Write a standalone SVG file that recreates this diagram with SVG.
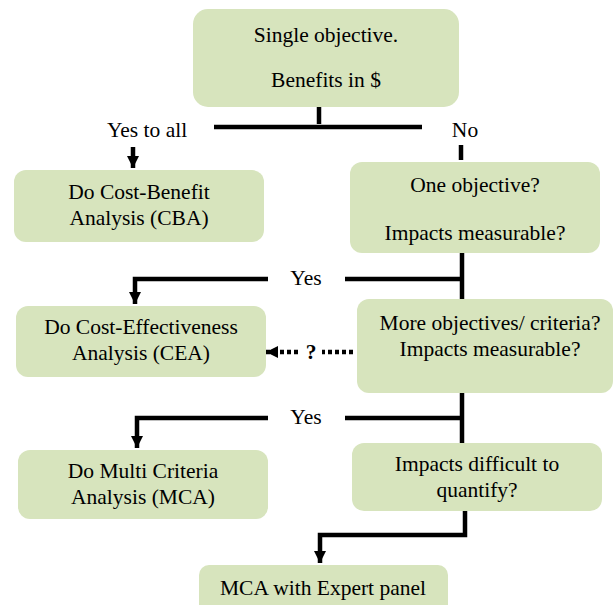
<svg xmlns="http://www.w3.org/2000/svg" width="614" height="605" viewBox="0 0 614 605">
<style>
.box{fill:#d7e4bd;stroke:none}
.t{font-family:"Liberation Serif","Times New Roman",serif;font-size:21.5px;fill:#000;text-anchor:middle}
.c{fill:none;stroke:#000;stroke-width:4.5}
.d{fill:none;stroke:#000;stroke-width:4.5;stroke-dasharray:4 3}
</style>
<defs>
<marker id="ah" markerUnits="userSpaceOnUse" markerWidth="14" markerHeight="12" refX="12" refY="6" orient="auto">
<path d="M0,0 L12,6 L0,12 Z" fill="#000"/>
</marker>
</defs>
<rect width="614" height="605" fill="#fff"/>
<g id="n-start"><rect class="box" x="193" y="9" width="266" height="98" rx="15"/>
<text class="t" x="326" y="42">Single objective.</text>
<text class="t" x="326" y="87">Benefits in $</text></g>
<g id="n-cba"><rect class="box" x="14" y="170" width="250" height="72" rx="12"/>
<text class="t" x="139" y="199">Do Cost-Benefit</text>
<text class="t" x="139" y="225">Analysis (CBA)</text></g>
<g id="n-one"><rect class="box" x="350" y="162" width="250" height="91" rx="12"/>
<text class="t" x="475" y="192">One objective?</text>
<text class="t" x="475" y="240">Impacts measurable?</text></g>
<g id="n-cea"><rect class="box" x="16" y="306" width="250" height="71" rx="12"/>
<text class="t" x="141" y="334">Do Cost-Effectiveness</text>
<text class="t" x="141" y="360">Analysis (CEA)</text></g>
<g id="n-more"><rect class="box" x="357" y="299" width="256" height="94" rx="12"/>
<text class="t" x="490" y="330">More objectives/ criteria?</text>
<text class="t" x="490" y="356">Impacts measurable?</text></g>
<g id="n-mca"><rect class="box" x="18" y="450" width="250" height="69" rx="12"/>
<text class="t" x="143" y="478">Do Multi Criteria</text>
<text class="t" x="143" y="504">Analysis (MCA)</text></g>
<g id="n-diff"><rect class="box" x="352" y="443" width="250" height="68" rx="12"/>
<text class="t" x="477" y="471">Impacts difficult to</text>
<text class="t" x="477" y="497">quantify?</text></g>
<g id="n-expert"><rect class="box" x="199" y="565" width="249" height="50" rx="10"/>
<text class="t" x="323" y="595">MCA with Expert panel</text></g>
<g id="connectors">
<path class="c" d="M319,107 V124"/>
<path class="c" d="M214,127 H422"/>
<text class="t" x="147" y="137">Yes to all</text>
<text class="t" x="465" y="137">No</text>
<path class="c" d="M133,147 V168" marker-end="url(#ah)"/>
<path class="c" d="M461,145 V160"/>
<path class="c" d="M462,253 V299"/>
<path class="c" d="M462,279 H345"/>
<path class="c" d="M268,279 H135 V304" marker-end="url(#ah)"/>
<text class="t" x="306" y="285">Yes</text>
<path class="d" d="M353,352 H322"/>
<text class="t" x="311" y="359" font-weight="bold">?</text>
<path class="d" d="M298,352 H266" marker-end="url(#ah)"/>
<path class="c" d="M462,393 V443"/>
<path class="c" d="M462,418 H345"/>
<path class="c" d="M268,418 H137 V448" marker-end="url(#ah)"/>
<text class="t" x="306" y="424">Yes</text>
<path class="c" d="M465,511 V535 H320 V563" marker-end="url(#ah)"/>
</g>
</svg>
